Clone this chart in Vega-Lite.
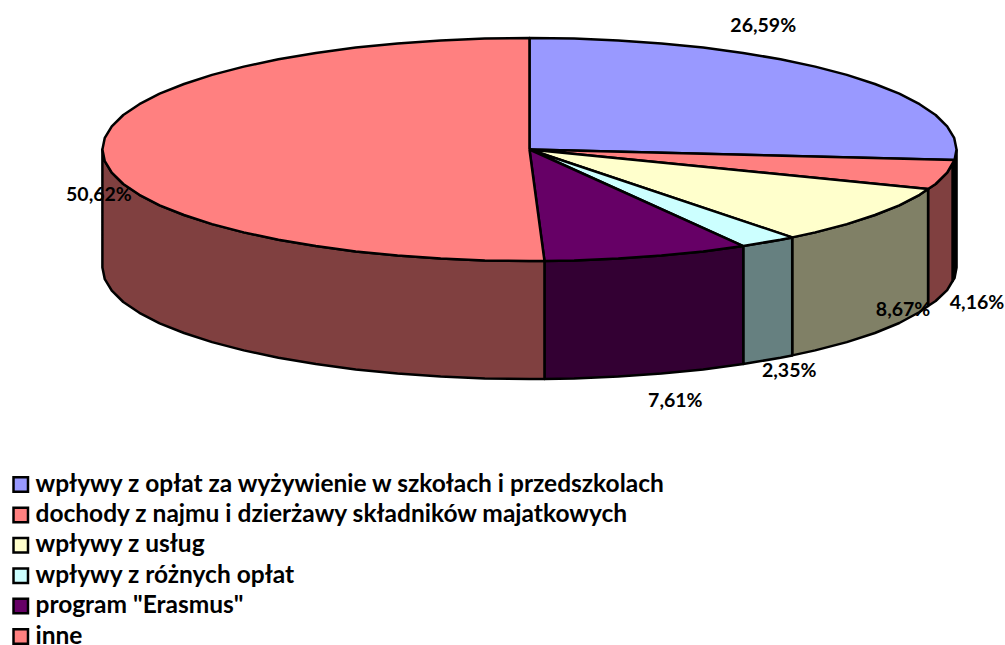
{"$schema":"https://vega.github.io/schema/vega-lite/v6.json","width":1005,"height":645,"autosize":{"type":"fit","contains":"padding"},"padding":0,"background":"white","view":{"stroke":null},
"config":{"font":"Lato"},
"datasets":{
"side":[
{"s":"a","i":0,"x":957.5,"y":149.5},{"s":"a","i":1,"x":955.5,"y":160},{"s":"a","i":2,"x":953.5,"y":164},{"s":"a","i":3,"x":953.5,"y":281},{"s":"a","i":4,"x":955.5,"y":278},{"s":"a","i":5,"x":957.5,"y":267.5},{"s":"a","i":6,"x":957.5,"y":149.5},
{"s":"b","i":0,"x":953.5,"y":164},{"s":"b","i":1,"x":948.1,"y":172.7},{"s":"b","i":2,"x":936.6,"y":184},{"s":"b","i":3,"x":929,"y":189},{"s":"b","i":4,"x":929,"y":306},{"s":"b","i":5,"x":936.6,"y":301},{"s":"b","i":6,"x":948.1,"y":290.2},{"s":"b","i":7,"x":953.5,"y":281},{"s":"b","i":8,"x":953.5,"y":164},
{"s":"c","i":0,"x":929,"y":189},{"s":"c","i":1,"x":920.5,"y":194.8},{"s":"c","i":2,"x":900.2,"y":205.3},{"s":"c","i":3,"x":875.8,"y":215},{"s":"c","i":4,"x":847.7,"y":224.1},{"s":"c","i":5,"x":816,"y":232.4},{"s":"c","i":6,"x":793,"y":237.4},{"s":"c","i":7,"x":793,"y":355.4},{"s":"c","i":8,"x":816,"y":350.4},{"s":"c","i":9,"x":847.7,"y":342.1},{"s":"c","i":10,"x":875.8,"y":333},{"s":"c","i":11,"x":900.2,"y":323},{"s":"c","i":12,"x":920.5,"y":312},{"s":"c","i":13,"x":929,"y":306},{"s":"c","i":14,"x":929,"y":189},
{"s":"d","i":0,"x":793,"y":237.4},{"s":"d","i":1,"x":781.3,"y":239.7},{"s":"d","i":2,"x":744,"y":246.1},{"s":"d","i":3,"x":744,"y":364.1},{"s":"d","i":4,"x":781.3,"y":357.7},{"s":"d","i":5,"x":793,"y":355.4},{"s":"d","i":6,"x":793,"y":237.4},
{"s":"e","i":0,"x":744,"y":246.1},{"s":"e","i":1,"x":703.9,"y":251.4},{"s":"e","i":2,"x":662.1,"y":255.5},{"s":"e","i":3,"x":618.9,"y":258.6},{"s":"e","i":4,"x":574.7,"y":260.4},{"s":"e","i":5,"x":545,"y":260.9},{"s":"e","i":6,"x":545,"y":378.9},{"s":"e","i":7,"x":574.7,"y":378.4},{"s":"e","i":8,"x":618.9,"y":376.6},{"s":"e","i":9,"x":662.1,"y":373.5},{"s":"e","i":10,"x":703.9,"y":369.4},{"s":"e","i":11,"x":744,"y":364.1},{"s":"e","i":12,"x":744,"y":246.1},
{"s":"f","i":0,"x":545,"y":260.9},{"s":"f","i":1,"x":530,"y":261},{"s":"f","i":2,"x":485.3,"y":260.4},{"s":"f","i":3,"x":441.1,"y":258.6},{"s":"f","i":4,"x":397.9,"y":255.5},{"s":"f","i":5,"x":356.1,"y":251.4},{"s":"f","i":6,"x":316.2,"y":246.1},{"s":"f","i":7,"x":278.7,"y":239.7},{"s":"f","i":8,"x":244,"y":232.4},{"s":"f","i":9,"x":212.3,"y":224.1},{"s":"f","i":10,"x":184.2,"y":215},{"s":"f","i":11,"x":159.8,"y":205.3},{"s":"f","i":12,"x":139.5,"y":194.8},{"s":"f","i":13,"x":123.4,"y":184},{"s":"f","i":14,"x":111.9,"y":172.7},{"s":"f","i":15,"x":104.9,"y":161.2},{"s":"f","i":16,"x":102.5,"y":149.5},{"s":"f","i":17,"x":102.5,"y":267.5},{"s":"f","i":18,"x":104.9,"y":279.2},{"s":"f","i":19,"x":111.9,"y":290.7},{"s":"f","i":20,"x":123.4,"y":302},{"s":"f","i":21,"x":139.5,"y":312.8},{"s":"f","i":22,"x":159.8,"y":323.3},{"s":"f","i":23,"x":184.2,"y":333},{"s":"f","i":24,"x":212.3,"y":342.1},{"s":"f","i":25,"x":244,"y":350.4},{"s":"f","i":26,"x":278.7,"y":357.7},{"s":"f","i":27,"x":316.2,"y":364.1},{"s":"f","i":28,"x":356.1,"y":369.4},{"s":"f","i":29,"x":397.9,"y":373.5},{"s":"f","i":30,"x":441.1,"y":376.6},{"s":"f","i":31,"x":485.3,"y":378.4},{"s":"f","i":32,"x":530,"y":379},{"s":"f","i":33,"x":545,"y":378.9},{"s":"f","i":34,"x":545,"y":260.9}
],
"top":[
{"s":"wpływy z opłat za wyżywienie w szkołach i przedszkolach","i":0,"x":530,"y":149.5},{"s":"wpływy z opłat za wyżywienie w szkołach i przedszkolach","i":1,"x":530,"y":38},{"s":"wpływy z opłat za wyżywienie w szkołach i przedszkolach","i":2,"x":574.7,"y":38.6},{"s":"wpływy z opłat za wyżywienie w szkołach i przedszkolach","i":3,"x":618.9,"y":40.4},{"s":"wpływy z opłat za wyżywienie w szkołach i przedszkolach","i":4,"x":662.1,"y":43.5},{"s":"wpływy z opłat za wyżywienie w szkołach i przedszkolach","i":5,"x":703.9,"y":47.6},{"s":"wpływy z opłat za wyżywienie w szkołach i przedszkolach","i":6,"x":743.8,"y":52.9},{"s":"wpływy z opłat za wyżywienie w szkołach i przedszkolach","i":7,"x":781.3,"y":59.3},{"s":"wpływy z opłat za wyżywienie w szkołach i przedszkolach","i":8,"x":816,"y":66.6},{"s":"wpływy z opłat za wyżywienie w szkołach i przedszkolach","i":9,"x":847.7,"y":74.9},{"s":"wpływy z opłat za wyżywienie w szkołach i przedszkolach","i":10,"x":875.8,"y":84},{"s":"wpływy z opłat za wyżywienie w szkołach i przedszkolach","i":11,"x":900.2,"y":93.7},{"s":"wpływy z opłat za wyżywienie w szkołach i przedszkolach","i":12,"x":920.5,"y":104.2},{"s":"wpływy z opłat za wyżywienie w szkołach i przedszkolach","i":13,"x":936.6,"y":115},{"s":"wpływy z opłat za wyżywienie w szkołach i przedszkolach","i":14,"x":948.1,"y":126.3},{"s":"wpływy z opłat za wyżywienie w szkołach i przedszkolach","i":15,"x":955.1,"y":137.8},{"s":"wpływy z opłat za wyżywienie w szkołach i przedszkolach","i":16,"x":957.5,"y":149.5},{"s":"wpływy z opłat za wyżywienie w szkołach i przedszkolach","i":17,"x":955.5,"y":160},{"s":"wpływy z opłat za wyżywienie w szkołach i przedszkolach","i":18,"x":530,"y":149.5},
{"s":"dochody z najmu i dzierżawy składników majatkowych","i":0,"x":530,"y":149.5},{"s":"dochody z najmu i dzierżawy składników majatkowych","i":1,"x":955.5,"y":160},{"s":"dochody z najmu i dzierżawy składników majatkowych","i":2,"x":948.1,"y":172.7},{"s":"dochody z najmu i dzierżawy składników majatkowych","i":3,"x":936.6,"y":184},{"s":"dochody z najmu i dzierżawy składników majatkowych","i":4,"x":929,"y":189},{"s":"dochody z najmu i dzierżawy składników majatkowych","i":5,"x":530,"y":149.5},
{"s":"wpływy z usług","i":0,"x":530,"y":149.5},{"s":"wpływy z usług","i":1,"x":929,"y":189},{"s":"wpływy z usług","i":2,"x":920.5,"y":194.8},{"s":"wpływy z usług","i":3,"x":900.2,"y":205.3},{"s":"wpływy z usług","i":4,"x":875.8,"y":215},{"s":"wpływy z usług","i":5,"x":847.7,"y":224.1},{"s":"wpływy z usług","i":6,"x":816,"y":232.4},{"s":"wpływy z usług","i":7,"x":793,"y":237.4},{"s":"wpływy z usług","i":8,"x":530,"y":149.5},
{"s":"wpływy z różnych opłat","i":0,"x":530,"y":149.5},{"s":"wpływy z różnych opłat","i":1,"x":793,"y":237.4},{"s":"wpływy z różnych opłat","i":2,"x":781.3,"y":239.7},{"s":"wpływy z różnych opłat","i":3,"x":744,"y":246.1},{"s":"wpływy z różnych opłat","i":4,"x":530,"y":149.5},
{"s":"program \"Erasmus\"","i":0,"x":530,"y":149.5},{"s":"program \"Erasmus\"","i":1,"x":744,"y":246.1},{"s":"program \"Erasmus\"","i":2,"x":703.9,"y":251.4},{"s":"program \"Erasmus\"","i":3,"x":662.1,"y":255.5},{"s":"program \"Erasmus\"","i":4,"x":618.9,"y":258.6},{"s":"program \"Erasmus\"","i":5,"x":574.7,"y":260.4},{"s":"program \"Erasmus\"","i":6,"x":545,"y":260.9},{"s":"program \"Erasmus\"","i":7,"x":530,"y":149.5},
{"s":"inne","i":0,"x":530,"y":149.5},{"s":"inne","i":1,"x":545,"y":260.9},{"s":"inne","i":2,"x":530,"y":261},{"s":"inne","i":3,"x":485.3,"y":260.4},{"s":"inne","i":4,"x":441.1,"y":258.6},{"s":"inne","i":5,"x":397.9,"y":255.5},{"s":"inne","i":6,"x":356.1,"y":251.4},{"s":"inne","i":7,"x":316.2,"y":246.1},{"s":"inne","i":8,"x":278.7,"y":239.7},{"s":"inne","i":9,"x":244,"y":232.4},{"s":"inne","i":10,"x":212.3,"y":224.1},{"s":"inne","i":11,"x":184.2,"y":215},{"s":"inne","i":12,"x":159.8,"y":205.3},{"s":"inne","i":13,"x":139.5,"y":194.8},{"s":"inne","i":14,"x":123.4,"y":184},{"s":"inne","i":15,"x":111.9,"y":172.7},{"s":"inne","i":16,"x":104.9,"y":161.2},{"s":"inne","i":17,"x":102.5,"y":149.5},{"s":"inne","i":18,"x":104.9,"y":137.8},{"s":"inne","i":19,"x":111.9,"y":126.3},{"s":"inne","i":20,"x":123.4,"y":115},{"s":"inne","i":21,"x":139.5,"y":104.2},{"s":"inne","i":22,"x":159.8,"y":93.7},{"s":"inne","i":23,"x":184.2,"y":84},{"s":"inne","i":24,"x":212.3,"y":74.9},{"s":"inne","i":25,"x":244,"y":66.6},{"s":"inne","i":26,"x":278.7,"y":59.3},{"s":"inne","i":27,"x":316.2,"y":52.9},{"s":"inne","i":28,"x":356.1,"y":47.6},{"s":"inne","i":29,"x":397.9,"y":43.5},{"s":"inne","i":30,"x":441.1,"y":40.4},{"s":"inne","i":31,"x":485.3,"y":38.6},{"s":"inne","i":32,"x":530,"y":38},{"s":"inne","i":33,"x":530,"y":149.5}
],
"labels":[{"t":"26,59%","x":764,"y":24},{"t":"4,16%","x":978,"y":301},{"t":"8,67%","x":904,"y":308},{"t":"2,35%","x":790,"y":369},{"t":"7,61%","x":676,"y":399},{"t":"50,62%","x":99,"y":193}]
},
"resolve":{"scale":{"fill":"independent"}},
"layer":[
{"data":{"name":"side"},"mark":{"type":"line","stroke":"black","strokeWidth":2.5,"strokeJoin":"round"},
"encoding":{"x":{"field":"x","type":"quantitative","scale":{"domain":[0,1005],"nice":false,"zero":false},"axis":null},"y":{"field":"y","type":"quantitative","scale":{"domain":[645,0],"nice":false,"zero":false},"axis":null},"order":{"field":"i"},"detail":{"field":"s"},
"fill":{"field":"s","type":"nominal","legend":null,"scale":{"domain":["a","b","c","d","e","f"],"range":["#000000","#804040","#808066","#668080","#330033","#804040"]}}}},
{"data":{"name":"top"},"mark":{"type":"line","stroke":"black","strokeWidth":2.5,"strokeJoin":"round"},
"encoding":{"x":{"field":"x","type":"quantitative","scale":{"domain":[0,1005],"nice":false,"zero":false},"axis":null},"y":{"field":"y","type":"quantitative","scale":{"domain":[645,0],"nice":false,"zero":false},"axis":null},"order":{"field":"i"},"detail":{"field":"s"},
"fill":{"field":"s","type":"nominal","scale":{"domain":["wpływy z opłat za wyżywienie w szkołach i przedszkolach","dochody z najmu i dzierżawy składników majatkowych","wpływy z usług","wpływy z różnych opłat","program \"Erasmus\"","inne"],"range":["#9999ff","#ff8080","#ffffcc","#ccffff","#660066","#ff8080"]},
"legend":{"title":null,"orient":"none","legendX":8.5,"legendY":472.5,"symbolType":"square","symbolSize":210,"symbolStrokeColor":"black","symbolStrokeWidth":2.5,"symbolOpacity":1,"labelFont":"Lato","labelFontWeight":"bold","labelFontSize":24.5,"labelColor":"black","labelLimit":800,"rowPadding":5.4,"labelOffset":2.5,"clipHeight":24}}}},
{"data":{"name":"labels"},"mark":{"type":"text","font":"Lato","fontWeight":"bold","fontSize":19.5,"color":"black","align":"center","baseline":"middle","dy":1.5},
"encoding":{"x":{"field":"x","type":"quantitative","scale":{"domain":[0,1005],"nice":false,"zero":false},"axis":null},"y":{"field":"y","type":"quantitative","scale":{"domain":[645,0],"nice":false,"zero":false},"axis":null},"text":{"field":"t"}}}
]}
